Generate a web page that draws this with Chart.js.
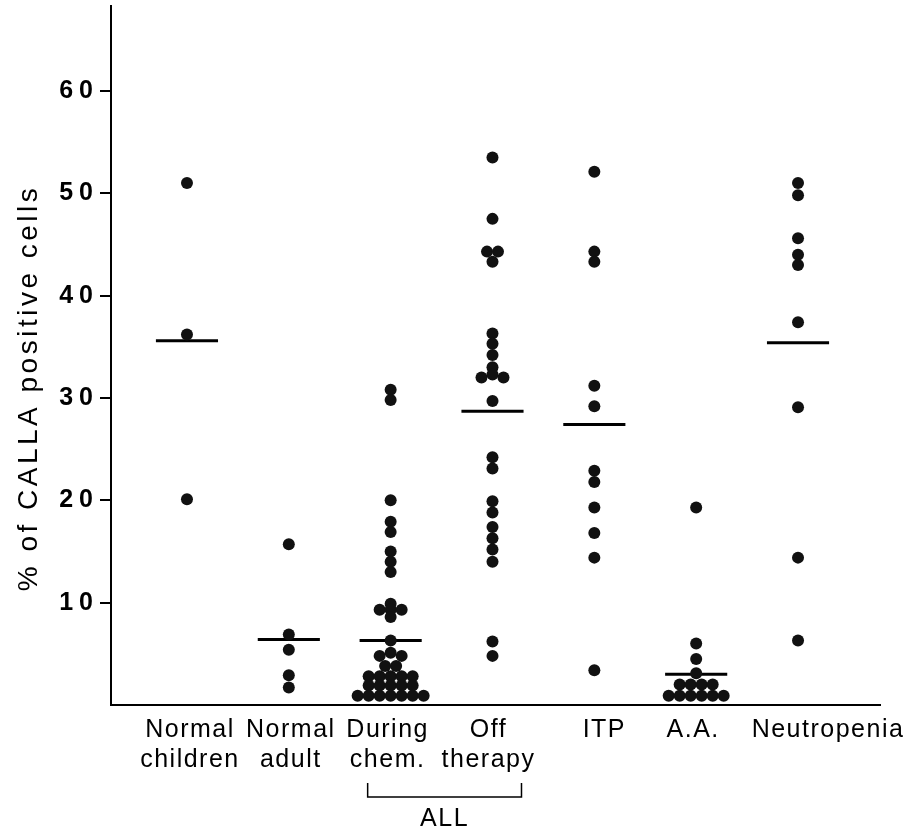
<!DOCTYPE html>
<html>
<head>
<meta charset="utf-8">
<script src="https://cdn.jsdelivr.net/npm/chart.js@4.4.0/dist/chart.umd.min.js"></script>
<style>
body { margin: 0; background: #fff; }
#wrap { width: 911px; height: 830px; }
</style>
</head>
<body>
<div id="wrap"><canvas id="myChart" width="911" height="830"></canvas></div>
<script>
// categories along the bottom (two lines where the figure has two)
var categories = [['Normal', 'children'], ['Normal', 'adult'], ['During', 'chem.'], ['Off', 'therapy'], ['ITP'], ['A.A.'], ['Neutropenia']];

// % of CALLA positive cells, one value per dot, top to bottom
var normalChildren = [51.0, 36.2, 20.1];
var normalAdult = [15.7, 6.9, 5.4, 2.9, 1.7];
var duringChem = [30.8, 29.8, 20.0, 17.9, 16.9, 15.0, 14.0, 13.0,
    9.9, 9.3, 9.3, 9.3, 8.6, 6.3, 4.8, 5.1, 4.8, 3.8, 3.8,
    2.8, 2.8, 2.8, 2.8, 2.8, 1.9, 1.9, 1.9, 1.9, 1.9,
    0.9, 0.9, 0.9, 0.9, 0.9, 0.9, 0.9];
var offTherapy = [53.5, 47.5, 44.3, 44.3, 43.3, 36.3, 35.3, 34.2, 33.0, 32.0, 32.3, 32.0,
    29.7, 24.2, 23.1, 19.9, 18.8, 17.4, 16.3, 15.2, 14.0, 6.2, 4.8];
var itp = [52.1, 44.3, 43.3, 31.2, 29.2, 22.9, 21.8, 19.3, 16.8, 14.4, 3.4];
var aplastic = [19.3, 6.0, 4.5, 3.1, 2.0, 2.0, 2.0, 2.0, 0.9, 0.9, 0.9, 0.9, 0.9, 0.9];
var neutropenia = [51.0, 49.8, 45.6, 44.0, 43.0, 37.4, 29.1, 14.4, 6.3];

// horizontal bars (group means)
var groupMeans = [35.6, 6.4, 6.3, 28.7, 27.4, 3.0, 35.4];

var yTicks = [10, 20, 30, 40, 50, 60];
var yTitle = '% of CALLA positive cells';
var groupLabel = 'ALL';

// small nudges of the category text, in px, as typeset in the figure
var labelShift = [3, 2, -3, -4, 10, -3, 30];

var columns = [normalChildren, normalAdult, duringChem, offTherapy, itp, aplastic, neutropenia];

// dots that sit at the same level are put side by side
function spread(values, pos) {
    var rows = [];
    values.forEach(function(v) {
        var row = rows[rows.length - 1];
        if (!row || Math.abs(v - row[0]) >= 0.45) {
            row = [];
            rows.push(row);
        }
        row.push(v);
    });
    var pts = [];
    rows.forEach(function(row) {
        row.forEach(function(v, k) {
            pts.push({ x: pos + (k - (row.length - 1) / 2) * 0.108, y: v });
        });
    });
    return pts;
}

var dots = [];
columns.forEach(function(col, i) {
    dots = dots.concat(spread(col, i + 1));
});

var datasets = [{
    type: 'scatter',
    data: dots,
    pointRadius: 6,
    pointHoverRadius: 6,
    backgroundColor: '#111',
    borderWidth: 0,
    clip: false
}];

groupMeans.forEach(function(m, i) {
    datasets.push({
        type: 'line',
        data: [{ x: i + 1 - 0.305, y: m }, { x: i + 1 + 0.305, y: m }],
        borderColor: '#000',
        borderWidth: 3,
        pointRadius: 0,
        clip: false
    });
});

var textPlugin = {
    id: 'texts',
    beforeDraw: function(chart) {
        // spaced-out digits on the y axis
        chart.ctx.letterSpacing = '6px';
    },
    beforeDatasetsDraw: function(chart) {
        chart.ctx.letterSpacing = '0px';
    },
    afterDraw: function(chart) {
        var ctx = chart.ctx;
        var xs = chart.scales.x;
        ctx.save();
        ctx.fillStyle = '#000';
        ctx.strokeStyle = '#000';

        // y axis title
        ctx.save();
        ctx.translate(29, 388);
        ctx.rotate(-Math.PI / 2);
        ctx.font = '28px "Liberation Sans"';
        ctx.letterSpacing = '3.5px';
        ctx.textAlign = 'center';
        ctx.textBaseline = 'middle';
        ctx.fillText(yTitle, 0, 0);
        ctx.restore();

        // category labels
        ctx.font = '25px "Liberation Sans"';
        ctx.letterSpacing = '1.5px';
        ctx.textAlign = 'center';
        ctx.textBaseline = 'alphabetic';
        categories.forEach(function(lines, i) {
            var cx = xs.getPixelForValue(i + 1) + labelShift[i];
            lines.forEach(function(t, j) {
                ctx.fillText(t, cx, 737 + j * 30);
            });
        });

        // bracket under the two ALL columns
        var left = xs.getPixelForValue(3) - 23;
        var right = xs.getPixelForValue(4) + 29;
        ctx.lineWidth = 1.5;
        ctx.beginPath();
        ctx.moveTo(left, 783);
        ctx.lineTo(left, 797);
        ctx.lineTo(right, 797);
        ctx.lineTo(right, 783);
        ctx.stroke();
        ctx.fillText(groupLabel, (left + right) / 2, 826);
        ctx.restore();
    }
};

var ctx = document.getElementById('myChart').getContext('2d');
var chart = new Chart(ctx, {
    type: 'scatter',
    data: { datasets: datasets },
    options: {
        responsive: false,
        animation: false,
        layout: { padding: { top: 0, right: 31, left: 0, bottom: 0 } },
        plugins: { legend: { display: false }, tooltip: { enabled: false } },
        scales: {
            x: {
                type: 'linear',
                min: 0.254,
                max: 7.805,
                grid: { display: false },
                border: { display: true, color: '#000', width: 2 },
                ticks: { display: false },
                afterFit: function(s) {
                    s.height = 125;
                    s.paddingLeft = 0;
                    s.paddingRight = 0;
                }
            },
            y: {
                type: 'linear',
                min: 0,
                max: 68.3,
                afterBuildTicks: function(s) {
                    s.ticks = yTicks.map(function(v) { return { value: v }; });
                },
                ticks: {
                    color: '#000',
                    padding: 1,
                    font: { family: 'Liberation Sans', weight: 'bold', size: 25 }
                },
                grid: { drawOnChartArea: false, drawTicks: true, tickLength: 11, color: '#000', lineWidth: 2 },
                border: { display: true, color: '#000', width: 2 },
                afterFit: function(s) {
                    s.width = 111;
                    s.paddingTop = 0;
                    s.paddingBottom = 0;
                }
            }
        }
    },
    plugins: [textPlugin]
});
</script>
</body>
</html>
